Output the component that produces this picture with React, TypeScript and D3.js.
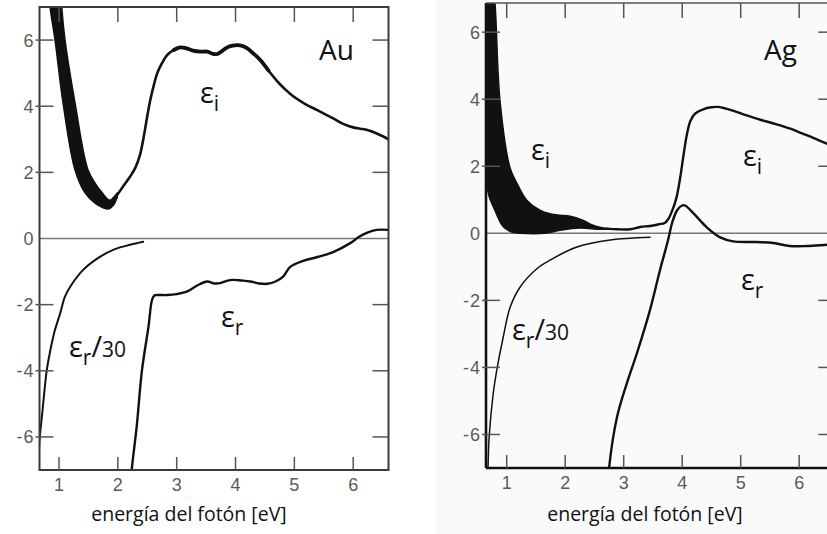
import React from 'react';
import * as d3 from 'd3';

type P = [number, number];

// ---------- shared axis content ----------
const xTickValues = [1, 2, 3, 4, 5, 6];
const yTickValues = [6, 4, 2, 0, -2, -4, -6];
const xTitle = 'energía del fotón [eV]';

// ---------- Au (photon energy eV, epsilon) ----------
const auEiBandOuter: P[] = [
  [0.82, 7.6], [0.847, 7.0], [0.932, 6.0], [1.068, 4.1], [1.272, 2.07], [1.442, 1.38],
  [1.612, 1.07], [1.75, 0.93], [1.833, 0.89], [1.92, 1.0], [1.99, 1.25],
];
const auEiBandInner: P[] = [
  [1.03, 7.6], [1.046, 7.0], [1.102, 6.0], [1.272, 4.1], [1.493, 2.07], [1.64, 1.6],
  [1.726, 1.4], [1.82, 1.2], [1.87, 1.16], [1.93, 1.25], [1.99, 1.38],
];
const auEi: P[] = [
  [1.95, 1.22], [1.99, 1.32], [2.1, 1.6], [2.2, 1.85], [2.3, 2.15], [2.38, 2.55], [2.43, 2.98],
  [2.5, 3.7], [2.55, 4.18], [2.62, 4.7], [2.67, 5.0], [2.75, 5.3], [2.84, 5.55], [2.95, 5.7],
  [3.06, 5.78], [3.17, 5.75], [3.28, 5.68], [3.4, 5.65], [3.52, 5.65], [3.62, 5.58], [3.69, 5.58],
  [3.78, 5.68], [3.86, 5.78], [3.95, 5.83], [4.03, 5.85], [4.12, 5.82], [4.2, 5.75], [4.3, 5.6],
  [4.42, 5.4], [4.56, 5.08], [4.71, 4.75], [4.85, 4.5], [4.98, 4.3], [5.2, 4.05], [5.39, 3.88],
  [5.66, 3.63], [5.85, 3.45], [6.0, 3.36], [6.12, 3.32], [6.24, 3.28], [6.42, 3.16], [6.6, 3.0],
];
const auEr: P[] = [
  [2.23, -7.3], [2.236, -7.0], [2.32, -5.69], [2.41, -3.98], [2.52, -2.67], [2.58, -1.86],
  [2.62, -1.72], [2.7, -1.71], [2.84, -1.71], [3.0, -1.68], [3.18, -1.6], [3.35, -1.42],
  [3.52, -1.3], [3.64, -1.36], [3.74, -1.35], [3.85, -1.28], [3.96, -1.25], [4.1, -1.27],
  [4.25, -1.3], [4.4, -1.36], [4.54, -1.37], [4.68, -1.3], [4.81, -1.15], [4.93, -0.86],
  [5.15, -0.68], [5.39, -0.56], [5.66, -0.41], [5.95, -0.14], [6.1, 0.05], [6.24, 0.18],
  [6.4, 0.26], [6.6, 0.26],
];
const auEr30: P[] = [
  [0.66, -6.4], [0.668, -6.1], [0.72, -5.19], [0.79, -4.0], [0.85, -3.4], [0.93, -2.77],
  [1.02, -2.26], [1.1, -1.76], [1.19, -1.46], [1.41, -0.95], [1.7, -0.55], [1.95, -0.32],
  [2.21, -0.19], [2.43, -0.1],
];

// ---------- Ag ----------
const agEiBandUpper: P[] = [
  [0.75, 7.6], [0.8, 6.85], [0.885, 3.96], [1.056, 1.96], [1.176, 1.49], [1.347, 0.98],
  [1.574, 0.68], [1.75, 0.58], [1.911, 0.54], [2.08, 0.51], [2.3, 0.39], [2.45, 0.26],
  [2.59, 0.18], [2.75, 0.14],
];
const agEiBandLower: P[] = [
  [0.6, 7.6], [0.62, 2.0], [0.646, 1.62], [0.7, 1.1], [0.8, 0.68], [0.9, 0.3], [0.97, 0.15],
  [1.1, 0.03], [1.23, 0.0], [1.65, 0.0], [1.91, 0.09], [2.25, 0.16], [2.59, 0.12], [2.75, 0.13],
];
const agEi: P[] = [
  [2.7, 0.14], [2.9, 0.12], [3.11, 0.12], [3.28, 0.19], [3.45, 0.22], [3.6, 0.27], [3.7, 0.31],
  [3.76, 0.42], [3.83, 0.68], [3.9, 1.05], [3.96, 1.6], [4.02, 2.3], [4.08, 2.95], [4.14, 3.35],
  [4.22, 3.57], [4.36, 3.7], [4.5, 3.76], [4.62, 3.77], [4.75, 3.72], [4.9, 3.64], [5.1, 3.52],
  [5.35, 3.38], [5.6, 3.26], [5.85, 3.12], [6.05, 2.98], [6.25, 2.84], [6.48, 2.67], [6.6, 2.58],
];
const agEr: P[] = [
  [2.74, -7.3], [2.75, -7.0], [2.886, -5.48], [3.056, -4.46], [3.227, -3.57], [3.449, -2.29],
  [3.62, -1.1], [3.757, -0.21], [3.826, 0.3], [3.91, 0.68], [3.996, 0.83], [4.05, 0.83],
  [4.19, 0.6], [4.42, 0.18], [4.65, -0.12], [4.87, -0.24], [5.28, -0.26], [5.56, -0.29],
  [5.84, -0.38], [6.13, -0.38], [6.48, -0.34], [6.6, -0.33],
];
const agEr30: P[] = [
  [0.675, -7.3], [0.68, -7.0], [0.7, -6.07], [0.77, -4.77], [0.83, -4.08], [0.94, -3.1],
  [1.06, -2.2], [1.23, -1.6], [1.52, -1.05], [1.74, -0.8], [2.2, -0.41], [2.77, -0.2],
  [3.45, -0.12],
];

type Lbl = { x: number; y: number; sub: string; tail?: boolean };

type PanelCfg = {
  id: string;
  name: string;
  xDomain: [number, number];
  xRange: [number, number];
  yDomain: [number, number];
  yRange: [number, number];
  bandA: P[];
  bandB: P[];
  ei: P[];
  er: P[];
  er30: P[];
  heavy?: [number, number];
  nameX: number;
  titleX: number;
  labels: Lbl[];
  ag: boolean;
};

const FONT = "'Open Sans', 'Liberation Sans', sans-serif";
const TICKFONT = "'Liberation Sans', Arial, sans-serif";

function Panel({ c }: { c: PanelCfg }) {
  const x = d3.scaleLinear().domain(c.xDomain).range(c.xRange);
  const y = d3.scaleLinear().domain(c.yDomain).range(c.yRange);
  const line = d3
    .line<P>()
    .x((d) => x(d[0]))
    .y((d) => y(d[1]))
    .curve(d3.curveCatmullRom.alpha(0.5));
  const bandPath =
    (line(c.bandA) as string) +
    (line(c.bandB.slice().reverse()) as string).replace(/^M/, 'L') +
    'Z';
  const [x0, x1] = c.xRange;
  const [yb, yt] = c.yRange;
  const clipId = 'clip-' + c.id;
  const frameCol = c.ag ? '#111' : '#3a3a3a';
  const heavyPts = c.heavy ? c.ei.filter((d) => d[0] >= c.heavy![0] && d[0] <= c.heavy![1]) : [];
  return (
    <g>
      <defs>
        <clipPath id={clipId}>
          <rect x={x0} y={yt} width={x1 - x0} height={yb - yt} />
        </clipPath>
      </defs>
      {/* zero line */}
      <line x1={x0} x2={x1} y1={y(0)} y2={y(0)} stroke="#777" strokeWidth={1.4} />
      <g clipPath={`url(#${clipId})`} fill="none" stroke="#111" strokeLinejoin="round" strokeLinecap="round">
        <path d={bandPath} fill="#111" stroke="#111" strokeWidth={1.5} />
        <path d={line(c.ei) as string} strokeWidth={c.ag ? 2.4 : 2.6} />
        {heavyPts.length > 1 && <path d={line(heavyPts) as string} strokeWidth={3.8} />}
        <path d={line(c.er) as string} strokeWidth={2.4} />
        <path d={line(c.er30) as string} strokeWidth={c.ag ? 1.5 : 2.0} />
      </g>
      {/* frame */}
      {c.ag ? (
        <g>
          <line x1={x0} x2={x0} y1={yt} y2={yb} stroke={frameCol} strokeWidth={2.6} />
          <line x1={x0} x2={x1} y1={yb} y2={yb} stroke={frameCol} strokeWidth={2.6} />
          <line x1={x0} x2={x1} y1={yt} y2={yt} stroke="#555" strokeWidth={1.6} />
          <line x1={x1} x2={x1} y1={yt} y2={yb} stroke="#555" strokeWidth={1.6} />
        </g>
      ) : (
        <rect x={x0} y={yt} width={x1 - x0} height={yb - yt} fill="none" stroke={frameCol} strokeWidth={2} />
      )}
      {/* ticks */}
      <g stroke="#555" strokeWidth={1.5}>
        {xTickValues.map((t) => (
          <g key={'xt' + t}>
            <line x1={x(t)} x2={x(t)} y1={yt} y2={yt + 15} />
            <line x1={x(t)} x2={x(t)} y1={yb} y2={yb - 13} />
          </g>
        ))}
        {yTickValues
          .filter((t) => t !== 0)
          .map((t) => (
            <g key={'yt' + t}>
              <line x1={x0 - 4} x2={x0 + 14} y1={y(t)} y2={y(t)} />
              <line x1={x1 - 16} x2={x1} y1={y(t)} y2={y(t)} />
            </g>
          ))}
      </g>
      {/* tick labels */}
      <g fontFamily={TICKFONT} fontSize={18} fill="#5a5a5a">
        {xTickValues.map((t) => (
          <text key={'xl' + t} x={x(t)} y={yb + 21} textAnchor="middle">
            {t}
          </text>
        ))}
        {yTickValues.map((t) => (
          <text key={'yl' + t} x={x0 - 5} y={y(t) + 6.5} textAnchor="end" letterSpacing={1}>
            {t < 0 ? '-' + Math.abs(t) : String(t)}
          </text>
        ))}
      </g>
      {/* panel name */}
      <text x={c.nameX} y={60} fontFamily={FONT} fontSize={28} fill="#111">
        {c.name}
      </text>
      {/* curve labels */}
      <g fontFamily={FONT} fill="#111">
        {c.labels.map((l, i) => (
          <text key={'lb' + i} x={l.x} y={l.y} fontSize={29}>
            ε
            <tspan fontSize={21} dy={8}>
              {l.sub}
            </tspan>
            {l.tail && (
              <>
                <tspan fontSize={29} dy={-8}>
                  /
                </tspan>
                <tspan fontSize={21}>30</tspan>
              </>
            )}
          </text>
        ))}
      </g>
      <text x={c.titleX} y={521} textAnchor="middle" fontFamily={FONT} fontSize={19.5} fill="#111">
        {xTitle}
      </text>
    </g>
  );
}

const panels: PanelCfg[] = [
  {
    id: 'au',
    name: 'Au',
    xDomain: [0.668, 6.6],
    xRange: [39.5, 388.5],
    yDomain: [-7, 7],
    yRange: [470, 7],
    bandA: auEiBandOuter,
    bandB: auEiBandInner,
    ei: auEi,
    er: auEr,
    er30: auEr30,
    heavy: [2.9, 4.7],
    nameX: 319,
    titleX: 189,
    labels: [
      { x: 200, y: 103, sub: 'i' },
      { x: 221, y: 327, sub: 'r' },
      { x: 69, y: 357, sub: 'r', tail: true },
    ],
    ag: false,
  },
  {
    id: 'ag',
    name: 'Ag',
    xDomain: [0.646, 6.6],
    xRange: [486, 834.3],
    yDomain: [-7, 6.87],
    yRange: [468, 3],
    bandA: agEiBandUpper,
    bandB: agEiBandLower,
    ei: agEi,
    er: agEr,
    er30: agEr30,
    nameX: 764,
    titleX: 645,
    labels: [
      { x: 531, y: 160, sub: 'i' },
      { x: 743, y: 166, sub: 'i' },
      { x: 741, y: 290, sub: 'r' },
      { x: 512, y: 340, sub: 'r', tail: true },
    ],
    ag: true,
  },
];

export default function App() {
  return (
    <svg
      width={827}
      height={534}
      viewBox="0 0 827 534"
      style={{ position: 'fixed', left: 0, top: 0, background: '#fff' }}
    >
      <rect x={0} y={0} width={827} height={534} fill="#fff" />
      <rect x={436} y={0} width={391} height={534} fill="#fafafa" />
      {panels.map((p) => (
        <Panel key={p.id} c={p} />
      ))}
    </svg>
  );
}
